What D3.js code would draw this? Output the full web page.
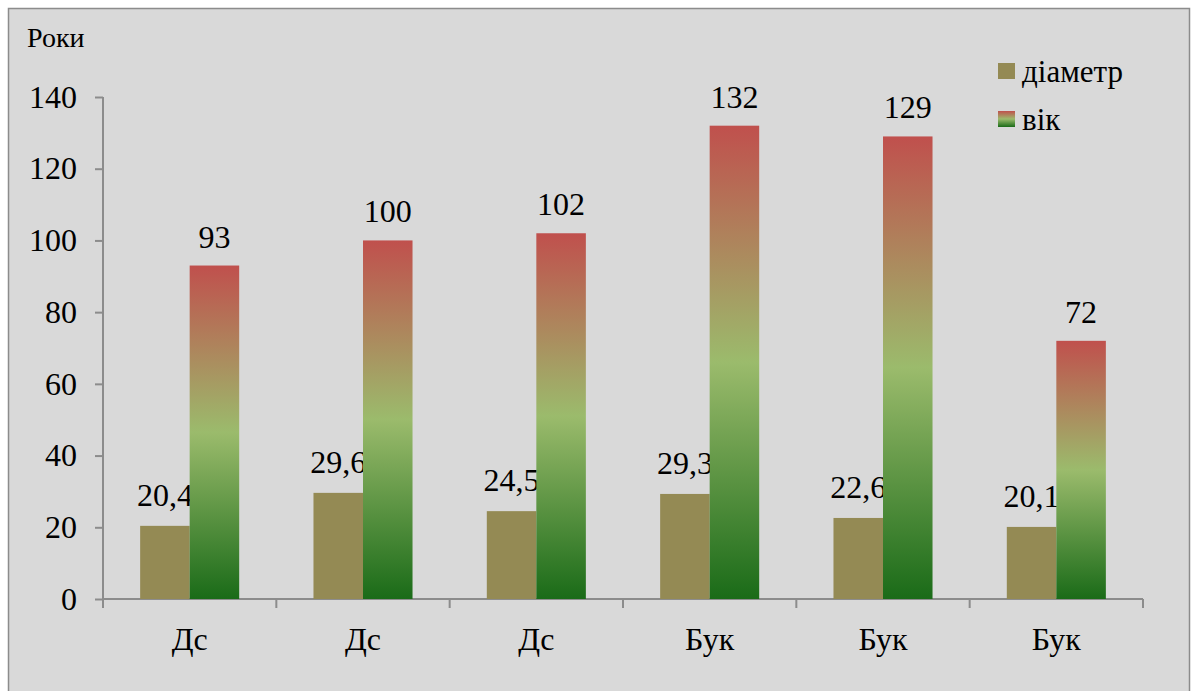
<!DOCTYPE html>
<html>
<head>
<meta charset="utf-8">
<script src="https://cdn.jsdelivr.net/npm/d3@7"></script>
<style>
  svg text { font-family: "Liberation Serif" !important; }
</style>
</head>
<body style="margin:0">
<script>
// Species of the sampled trees (x-axis categories)
const categories = ["Дс", "Дс", "Дс", "Бук", "Бук", "Бук"];
// Stem diameter, cm
const diameter = [20.4, 29.6, 24.5, 29.3, 22.6, 20.1];
// Tree age, years
const age = [93, 100, 102, 132, 129, 72];
const seriesNames = ["діаметр", "вік"];
const yTicks = [0, 20, 40, 60, 80, 100, 120, 140];
const yTitle = "Роки";

const W = 1195, H = 691;
const plot = { left: 103, right: 1143, top: 97, bottom: 599 };
const FONT = '"Liberation Serif"';

const svg = d3.select("body").append("svg")
  .attr("width", W).attr("height", H)
  .style("display", "block");

// Chart area background with its frame
svg.append("rect")
  .attr("x", 8.5).attr("y", 8.5)
  .attr("width", 1181).attr("height", 690)
  .attr("fill", "#d9d9d9")
  .attr("stroke", "#8c8c8c").attr("stroke-width", 1.5);

// Vertical gradient for the age bars: red at the top, light green mid, dark green base
const defs = svg.append("defs");
function addGradient(id) {
  const g = defs.append("linearGradient")
    .attr("id", id).attr("x1", 0).attr("y1", 0).attr("x2", 0).attr("y2", 1);
  g.append("stop").attr("offset", "0%").attr("stop-color", "#c0504d");
  g.append("stop").attr("offset", "50%").attr("stop-color", "#9bbb6c");
  g.append("stop").attr("offset", "100%").attr("stop-color", "#1a6b18");
}
addGradient("ageGrad");
addGradient("legGrad");

const idx = d3.range(categories.length);
const x0 = d3.scaleBand().domain(idx).range([plot.left, plot.right]).padding(0);
const step = x0.bandwidth();
const gap = step * 1.5 / 3.5; // gap width 150% of a bar
const x1 = d3.scaleBand().domain(seriesNames).range([gap / 2, step - gap / 2]).padding(0);
const y = d3.scaleLinear().domain([0, 140]).range([plot.bottom, plot.top]);

const axisColor = "#8c8c8c";
const fs = 32;

// Y axis
const yAxis = svg.append("g")
  .attr("transform", `translate(${plot.left},0)`)
  .call(d3.axisLeft(y).tickValues(yTicks).tickSize(8).tickPadding(18).tickFormat(d3.format("d")));
yAxis.attr("font-family", null).attr("font-size", null);
yAxis.select(".domain").attr("stroke", axisColor).attr("stroke-width", 2)
  .attr("d", `M0,${plot.top}V${plot.bottom}`);
yAxis.selectAll(".tick line").attr("stroke", axisColor).attr("stroke-width", 2);
yAxis.selectAll(".tick text")
  .style("font-family", FONT).attr("font-size", fs).attr("fill", "#000");

// X axis: baseline, boundary ticks and category names
const xg = svg.append("g");
xg.append("line")
  .attr("x1", plot.left).attr("x2", plot.right)
  .attr("y1", y(0)).attr("y2", y(0))
  .attr("stroke", axisColor).attr("stroke-width", 2);
const boundaries = idx.map(i => x0(i)).concat([x0(idx[idx.length - 1]) + step]);
xg.selectAll(".xtick").data(boundaries).join("line")
  .attr("class", "xtick")
  .attr("x1", d => d).attr("x2", d => d)
  .attr("y1", y(0)).attr("y2", y(0) + 9)
  .attr("stroke", axisColor).attr("stroke-width", 2);
xg.selectAll(".xlabel").data(idx).join("text")
  .attr("class", "xlabel")
  .attr("x", i => x0(i) + step / 2)
  .attr("y", y(0) + 51)
  .attr("text-anchor", "middle")
  .style("font-family", FONT).attr("font-size", fs)
  .text(i => categories[i]);

// Diameter bars
const groups = svg.append("g");
groups.selectAll(".dia").data(idx).join("rect")
  .attr("class", "dia")
  .attr("x", i => x0(i) + x1("діаметр"))
  .attr("y", i => y(diameter[i]))
  .attr("width", x1.bandwidth())
  .attr("height", i => y(0) - y(diameter[i]))
  .attr("fill", "#948a54");

// Diameter value labels (the age bars are drawn over them)
groups.selectAll(".diaLabel").data(idx).join("text")
  .attr("class", "diaLabel")
  .attr("x", i => x0(i) + x1("діаметр") + x1.bandwidth() / 2)
  .attr("y", i => y(diameter[i]) - 20)
  .attr("text-anchor", "middle")
  .style("font-family", FONT).attr("font-size", fs)
  .text(i => String(diameter[i]).replace(".", ","));

// Age bars
groups.selectAll(".age").data(idx).join("rect")
  .attr("class", "age")
  .attr("x", i => x0(i) + x1("вік"))
  .attr("y", i => y(age[i]))
  .attr("width", x1.bandwidth())
  .attr("height", i => y(0) - y(age[i]))
  .attr("fill", "url(#ageGrad)");

groups.selectAll(".ageLabel").data(idx).join("text")
  .attr("class", "ageLabel")
  .attr("x", i => x0(i) + x1("вік") + x1.bandwidth() / 2)
  .attr("y", i => y(age[i]) - 18)
  .attr("text-anchor", "middle")
  .style("font-family", FONT).attr("font-size", fs)
  .text(i => age[i]);

// Axis title
svg.append("text")
  .attr("x", 27).attr("y", 47)
  .style("font-family", FONT).attr("font-size", 28)
  .text(yTitle);

// Legend
const legend = svg.append("g").attr("transform", "translate(998,63)");
const legendFills = ["#948a54", "url(#legGrad)"];
const items = legend.selectAll("g").data(seriesNames).join("g")
  .attr("transform", (d, i) => `translate(0,${i * 48})`);
items.append("rect")
  .attr("width", 17).attr("height", 16)
  .attr("fill", (d, i) => legendFills[i]);
items.append("text")
  .attr("x", 24).attr("y", 19)
  .style("font-family", FONT).attr("font-size", 31)
  .text(d => d);
</script>
</body>
</html>
